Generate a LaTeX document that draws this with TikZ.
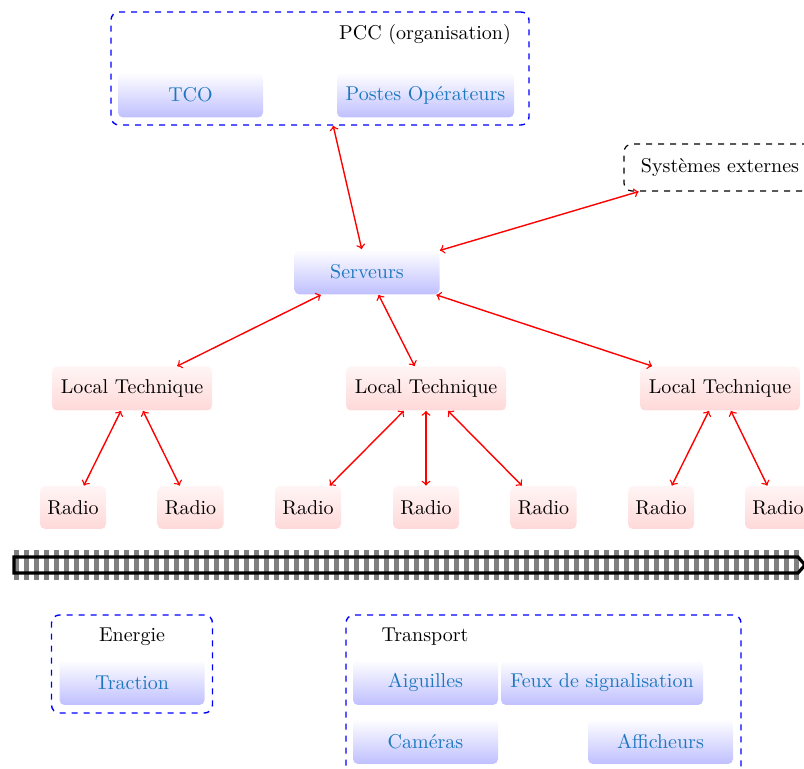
\documentclass[tikz,border=0pt]{standalone}
\usetikzlibrary{arrows}
\definecolor{tblue}{RGB}{30,120,190}
\begin{document}
\begin{tikzpicture}[x=0.5pt,y=-0.5pt,
  bluebox/.style={rounded corners=2.5pt, top color=white, bottom color=blue!25, draw=none, text=tblue, minimum width=72.5pt, minimum height=22.5pt, inner sep=2pt},
  redbox/.style={rounded corners=2.5pt, top color=red!4, bottom color=red!15, draw=none, text=black, minimum height=22pt, inner sep=2pt},
  group/.style={draw=blue, dashed, line width=0.7pt, rounded corners=4pt, inner sep=0pt},
  link/.style={red, line width=0.7pt, <->}]
\useasboundingbox (0,0) rectangle (804,769);
\clip (0,0) rectangle (804,769);
% groups
\node[group, minimum width=209pt, minimum height=56.5pt] (pcc) at (320,68.5) {};
\node (pccl) at (425,35) {PCC (organisation)};
\node[bluebox] (tco) at (190.5,95) {TCO};
\node[bluebox, minimum width=88.5pt] (postes) at (425.5,95) {Postes Op\'erateurs};
\node[draw=black, dashed, line width=0.6pt, rounded corners=4pt, minimum width=96pt, minimum height=23.5pt] (ext) at (720,167.5) {Syst\`emes externes};
\node[bluebox] (serv) at (367,272) {Serveurs};
% local techniques
\node[redbox, minimum width=80pt] (lt1) at (132,388.5) {Local Technique};
\node[redbox, minimum width=80pt] (lt2) at (426,388.5) {Local Technique};
\node[redbox, minimum width=80pt] (lt3) at (720,388.5) {Local Technique};
% radios
\foreach \n/\x in {r1/73,r2/190.5,r3/308,r4/426,r5/543.5,r6/661,r7/778}
  \node[redbox, minimum width=33pt, minimum height=21.5pt] (\n) at (\x,507.5) {Radio};
% connectors
\draw[link] (pcc) -- (serv);
\draw[link] (serv) -- (ext);
\draw[link] (serv) -- (lt1);
\draw[link] (serv) -- (lt2);
\draw[link] (serv) -- (lt3);
\draw[link] (lt1) -- (r1);
\draw[link] (lt1) -- (r2);
\draw[link] (lt2) -- (r3);
\draw[link] (lt2) -- (r4);
\draw[link] (lt2) -- (r5);
\draw[link] (lt3) -- (r6);
\draw[link] (lt3) -- (r7);
% track
\draw[gray, line width=15pt, dash pattern=on 2.5pt off 2.5pt] (14,565) -- (806,565);
\draw[black, line width=1.6pt] (14,557) -- (798,557) -- (805,565) -- (798,573) -- (14,573) -- cycle;
% energie
\node[group, minimum width=80.5pt, minimum height=49pt] (ener) at (132,664) {};
\node (enerl) at (132,637) {Energie};
\node[bluebox] (traction) at (132,682.5) {Traction};
% transport
\node[group, minimum width=197.5pt, minimum height=85pt] (trans) at (543.5,700) {};
\node (transl) at (425,637) {Transport};
\node[bluebox] (aig) at (425.5,682.5) {Aiguilles};
\node[bluebox, minimum width=101pt] (feux) at (602,682.5) {Feux de signalisation};
\node[bluebox] (cam) at (425.5,741.5) {Cam\'eras};
\node[bluebox] (aff) at (660.5,741.5) {Afficheurs};
\end{tikzpicture}
\end{document}
